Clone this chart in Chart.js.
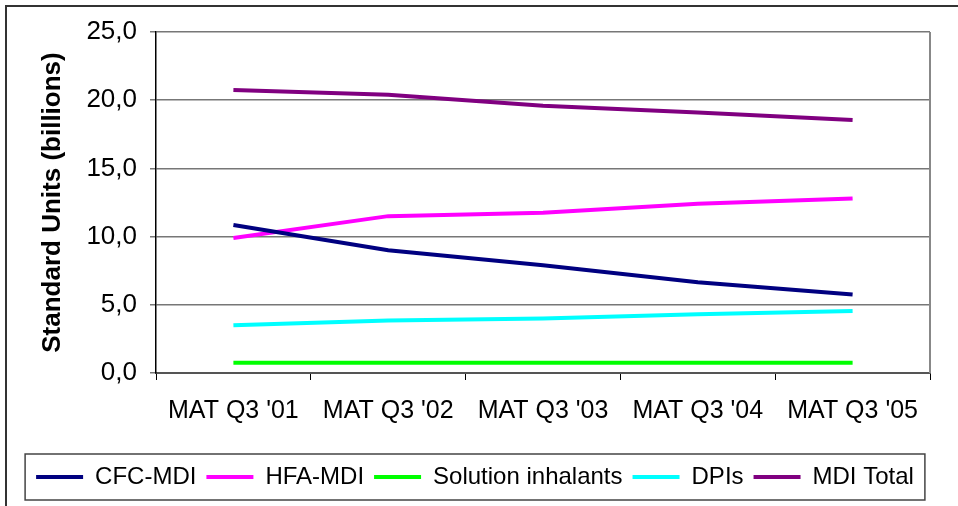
<!DOCTYPE html>
<html>
<head>
<meta charset="utf-8">
<script src="https://cdn.jsdelivr.net/npm/chart.js@4"></script>
<style>
  html, body { margin: 0; padding: 0; background: #fff; }
  #wrap { width: 958px; height: 506px; position: relative; }
</style>
</head>
<body>
<div id="wrap"><canvas id="inhalers"></canvas></div>
<script>
const categories = ["MAT Q3 '01", "MAT Q3 '02", "MAT Q3 '03", "MAT Q3 '04", "MAT Q3 '05"];
const cfcMdi = [10.85, 9.0, 7.9, 6.65, 5.75];
const hfaMdi = [9.9, 11.5, 11.75, 12.4, 12.8];
const solutionInhalants = [0.75, 0.75, 0.75, 0.75, 0.75];
const dpis = [3.5, 3.85, 4.0, 4.3, 4.55];
const mdiTotal = [20.75, 20.4, 19.6, 19.1, 18.55];

const seriesNames = ['CFC-MDI', 'HFA-MDI', 'Solution inhalants', 'DPIs', 'MDI Total'];
const seriesColors = ['#000080', '#ff00ff', '#00ff00', '#00ffff', '#800080'];

const FONT = '"Liberation Sans", Arial, sans-serif';

// frame round the whole picture, right edge of the plot, box round the legend
const framePlugin = {
    id: 'frame',
    afterDraw(chart) {
        const ctx = chart.ctx;
        const area = chart.chartArea;
        ctx.save();
        ctx.strokeStyle = '#333';
        ctx.lineWidth = 2;
        ctx.strokeRect(6, 6, chart.width + 20, chart.height + 20);

        ctx.strokeStyle = '#888';
        ctx.beginPath();
        ctx.moveTo(area.right, area.top);
        ctx.lineTo(area.right, area.bottom);
        ctx.stroke();

        const boxes = chart.legend.legendHitBoxes;
        if (boxes && boxes.length) {
            const left = Math.min(...boxes.map(b => b.left)) - 11;
            const right = Math.max(...boxes.map(b => b.left + b.width)) + 11;
            const top = Math.min(...boxes.map(b => b.top)) - 11;
            const bottom = Math.max(...boxes.map(b => b.top + b.height)) + 11;
            ctx.strokeStyle = '#444';
            ctx.lineWidth = 1.5;
            ctx.strokeRect(left, top, right - left, bottom - top);
        }
        ctx.restore();
    }
};

function makeDataset(i, values) {
    return {
        label: seriesNames[i],
        data: values,
        borderColor: seriesColors[i],
        backgroundColor: seriesColors[i],
        borderWidth: 4,
        pointRadius: 0,
        pointStyle: 'line',
        tension: 0
    };
}

new Chart(document.getElementById('inhalers'), {
    type: 'line',
    data: {
        labels: categories,
        datasets: [
            makeDataset(0, cfcMdi),
            makeDataset(1, hfaMdi),
            makeDataset(2, solutionInhalants),
            makeDataset(3, dpis),
            makeDataset(4, mdiTotal)
        ]
    },
    options: {
        responsive: true,
        maintainAspectRatio: false,
        animation: false,
        layout: {padding: {left: 20, top: 32, right: 28, bottom: 7}},
        plugins: {
            tooltip: {enabled: false},
            legend: {
                position: 'bottom',
                labels: {
                    usePointStyle: true,
                    pointStyleWidth: 47,
                    boxHeight: 4,
                    padding: 10,
                    color: '#000',
                    font: {family: FONT, size: 24}
                }
            }
        },
        scales: {
            x: {
                offset: true,
                afterFit: scale => { scale.height = 82; },
                grid: {
                    offset: true,
                    drawOnChartArea: false,
                    drawTicks: true,
                    tickLength: 7,
                    color: '#000'
                },
                border: {color: '#555', width: 2},
                ticks: {
                    padding: 16,
                    maxRotation: 0,
                    color: '#000',
                    font: {family: FONT, size: 25}
                }
            },
            y: {
                min: 0,
                max: 25,
                afterFit: scale => { scale.width = 136; },
                grid: {color: '#777', lineWidth: 1.5, tickLength: 6},
                border: {color: '#000', width: 1.5},
                ticks: {
                    stepSize: 5,
                    padding: 13,
                    color: '#000',
                    font: {family: FONT, size: 26},
                    callback: v => v.toFixed(1).replace('.', ',')
                },
                title: {
                    display: true,
                    text: 'Standard Units (billions)',
                    color: '#000',
                    padding: {top: 17, bottom: 0},
                    font: {family: FONT, size: 26, weight: 'bold'}
                }
            }
        }
    },
    plugins: [framePlugin]
});
</script>
</body>
</html>
